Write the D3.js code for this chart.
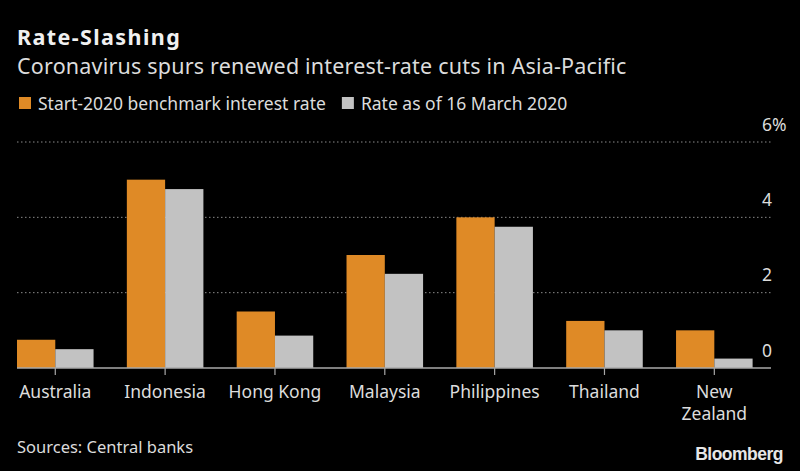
<!DOCTYPE html>
<html><head><meta charset="utf-8">
<script src="https://cdn.jsdelivr.net/npm/d3@7"></script>
<style>body{margin:0;background:#000;} svg{display:block;}</style>
</head><body>
<svg id="c" width="800" height="471"></svg>
<script>
const categories = ["Australia","Indonesia","Hong Kong","Malaysia","Philippines","Thailand","New Zealand"];
const startRates = [0.75, 5.0, 1.5, 3.0, 4.0, 1.25, 1.0];
const marchRates = [0.5, 4.75, 0.86, 2.5, 3.75, 1.0, 0.25];
const seriesNames = ["Start-2020 benchmark interest rate","Rate as of 16 March 2020"];
const yTicks = [0, 2, 4, 6];
const yTickLabels = ["0","2","4","6%"];

const svg = d3.select("#c");
svg.append("rect").attr("width",800).attr("height",471).attr("fill","#000");
const font = "'Noto Sans', sans-serif";
const textCol = "#dcdcdc";
const colors = ["#df8a26", "#c2c2c2"];

svg.append("text").attr("x",17).attr("y",45).attr("fill","#f0f0f0")
  .attr("font-family",font).attr("font-weight","bold").attr("font-size",21.5).attr("letter-spacing","1.4").text("Rate-Slashing");
svg.append("text").attr("x",17).attr("y",74).attr("fill",textCol)
  .attr("font-family",font).attr("font-size",21.5).attr("letter-spacing","0.2").text("Coronavirus spurs renewed interest-rate cuts in Asia-Pacific");

// legend
const leg = svg.append("g");
let lx = 19;
seriesNames.forEach((n,i)=>{
  leg.append("rect").attr("x",lx).attr("y",97).attr("width",12).attr("height",12).attr("fill",colors[i]);
  const t = leg.append("text").attr("x",lx+19).attr("y",109.5).attr("fill",textCol)
    .attr("font-family",font).attr("font-size",17.5).text(n);
  lx += 19 + t.node().getComputedTextLength() + 16;
});

const y = d3.scaleLinear().domain([0,6]).range([368,142]);
const x0 = d3.scaleBand().domain(categories).range([17,752.6]).paddingInner(0.303).paddingOuter(0);
const x1 = d3.scaleBand().domain([0,1]).range([0,x0.bandwidth()]);

// gridlines
svg.append("g").selectAll("line").data(yTicks.filter(d=>d>0)).join("line")
  .attr("x1",17).attr("x2",771).attr("y1",d=>y(d)).attr("y2",d=>y(d))
  .attr("stroke","#8a8a8a").attr("stroke-width",1).attr("stroke-dasharray","1.5,2.5");
svg.append("g").selectAll("text").data(yTicks).join("text")
  .attr("x",762).attr("y",d=>y(d)-11.5).attr("fill",textCol)
  .attr("font-family",font).attr("font-size",17.5).text((d,i)=>yTickLabels[i]);

// bars
const groups = svg.append("g").selectAll("g").data(categories).join("g")
  .attr("transform",d=>`translate(${x0(d)},0)`);
groups.selectAll("rect").data((d,i)=>[startRates[i], marchRates[i]]).join("rect")
  .attr("x",(d,j)=>x1(j)).attr("width",x1.bandwidth())
  .attr("y",d=>y(d)).attr("height",d=>y(0)-y(d))
  .attr("fill",(d,j)=>colors[j]);

// baseline axis
const xa = svg.append("g").attr("transform",`translate(0,${y(0)})`);
xa.append("line").attr("x1",17).attr("x2",771).attr("stroke","#a8a8a8").attr("stroke-width",1.5);
categories.forEach(c=>{
  const cx = x0(c)+x0.bandwidth()/2;
  xa.append("line").attr("x1",cx).attr("x2",cx).attr("y1",0).attr("y2",7).attr("stroke","#a8a8a8").attr("stroke-width",1.2);
  const words = c==="New Zealand" ? ["New","Zealand"] : [c];
  const t = xa.append("text").attr("text-anchor","middle").attr("fill",textCol)
    .attr("font-family",font).attr("font-size",17.5);
  words.forEach((w,k)=>t.append("tspan").attr("x",cx).attr("y",30+k*22).text(w));
});

svg.append("text").attr("x",17).attr("y",453).attr("fill",textCol)
  .attr("font-family",font).attr("font-size",16.5).text("Sources: Central banks");
svg.append("text").attr("x",783).attr("y",460).attr("text-anchor","end").attr("fill","#e6e6e6")
  .attr("font-family","'Liberation Sans', Arial, sans-serif").attr("font-weight","bold").attr("font-size",17.5).attr("letter-spacing","-0.5").text("Bloomberg");
</script>
</body></html>
